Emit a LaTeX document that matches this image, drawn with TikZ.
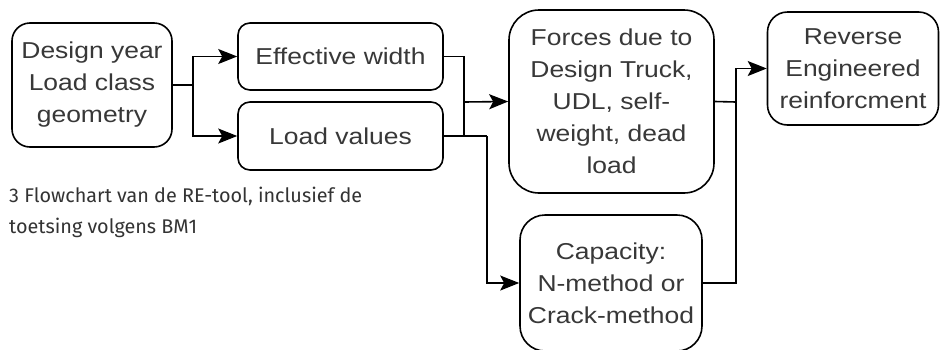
\documentclass[tikz,border=0pt]{standalone}
\usepackage{fontspec}
\usetikzlibrary{arrows.meta}
\newfontfamily\boxfont{Liberation Sans}[FakeStretch=1.15]
\newfontfamily\capfont{Fira Sans}
\tikzset{
  box/.style={draw=black, line width=1.6bp, align=center, inner sep=0pt,
    text=black!78, font=\boxfont\fontsize{23bp}{32bp}\selectfont},
  conn/.style={draw=black, line width=1.6bp},
  arr/.style={conn, -{Stealth[length=19bp, width=15bp, inset=4bp]}},
}
\begin{document}
\begin{tikzpicture}[x=1bp, y=-1bp]
\useasboundingbox (0,0) rectangle (940,349);
\clip (0,0) rectangle (940,349);
\fill[white] (0,0) rectangle (940,349);
\node[box, rounded corners=18bp, minimum width=160bp, minimum height=124bp] (A) at (92,85)
  {Design year\\Load class\\geometry};
\node[box, rounded corners=12bp, minimum width=205bp, minimum height=67bp] (B) at (340.5,56.5)
  {Effective width};
\node[box, rounded corners=12bp, minimum width=205bp, minimum height=68bp] (C) at (340.5,136)
  {Load values};
\node[box, rounded corners=30bp, minimum width=205bp, minimum height=183bp] (F) at (611.5,101.5)
  {Forces due to\\Design Truck,\\UDL, self-\\weight, dead\\load};
\node[box, rounded corners=25bp, minimum width=182bp, minimum height=136bp] (K) at (611,283)
  {Capacity:\\N-method or\\Crack-method};
\node[box, rounded corners=20bp, minimum width=171bp, minimum height=113bp] (R) at (853,68.5)
  {Reverse\\Engineered\\reinforcment};
\coordinate (j1) at (193,85);
\coordinate (j2) at (464,102);
\coordinate (j3) at (487,136);
\coordinate (j4) at (736,102);
\draw[conn] (A.east) -- (j1);
\draw[arr] (j1) |- (B.west);
\draw[arr] (j1) |- (C.west);
\draw[conn] (B.east) -| (j2);
\draw[conn] (C.east) -| (j2);
\draw[arr] (j2) -- (F.west);
\draw[conn] (C.east) -- (j3);
\draw[arr] (j3) |- (K.west);
\draw[conn] (F.east) -- (j4);
\draw[conn] (K.east) -| (j4);
\draw[arr] (j4) |- (R.west);
\node[anchor=north west, align=left, inner sep=0pt, text=black!80,
  font=\capfont\fontsize{19.8bp}{31bp}\selectfont] (cap) at (9,187)
  {3 Flowchart van de RE-tool, inclusief de\\toetsing volgens BM1};
\end{tikzpicture}
\end{document}
